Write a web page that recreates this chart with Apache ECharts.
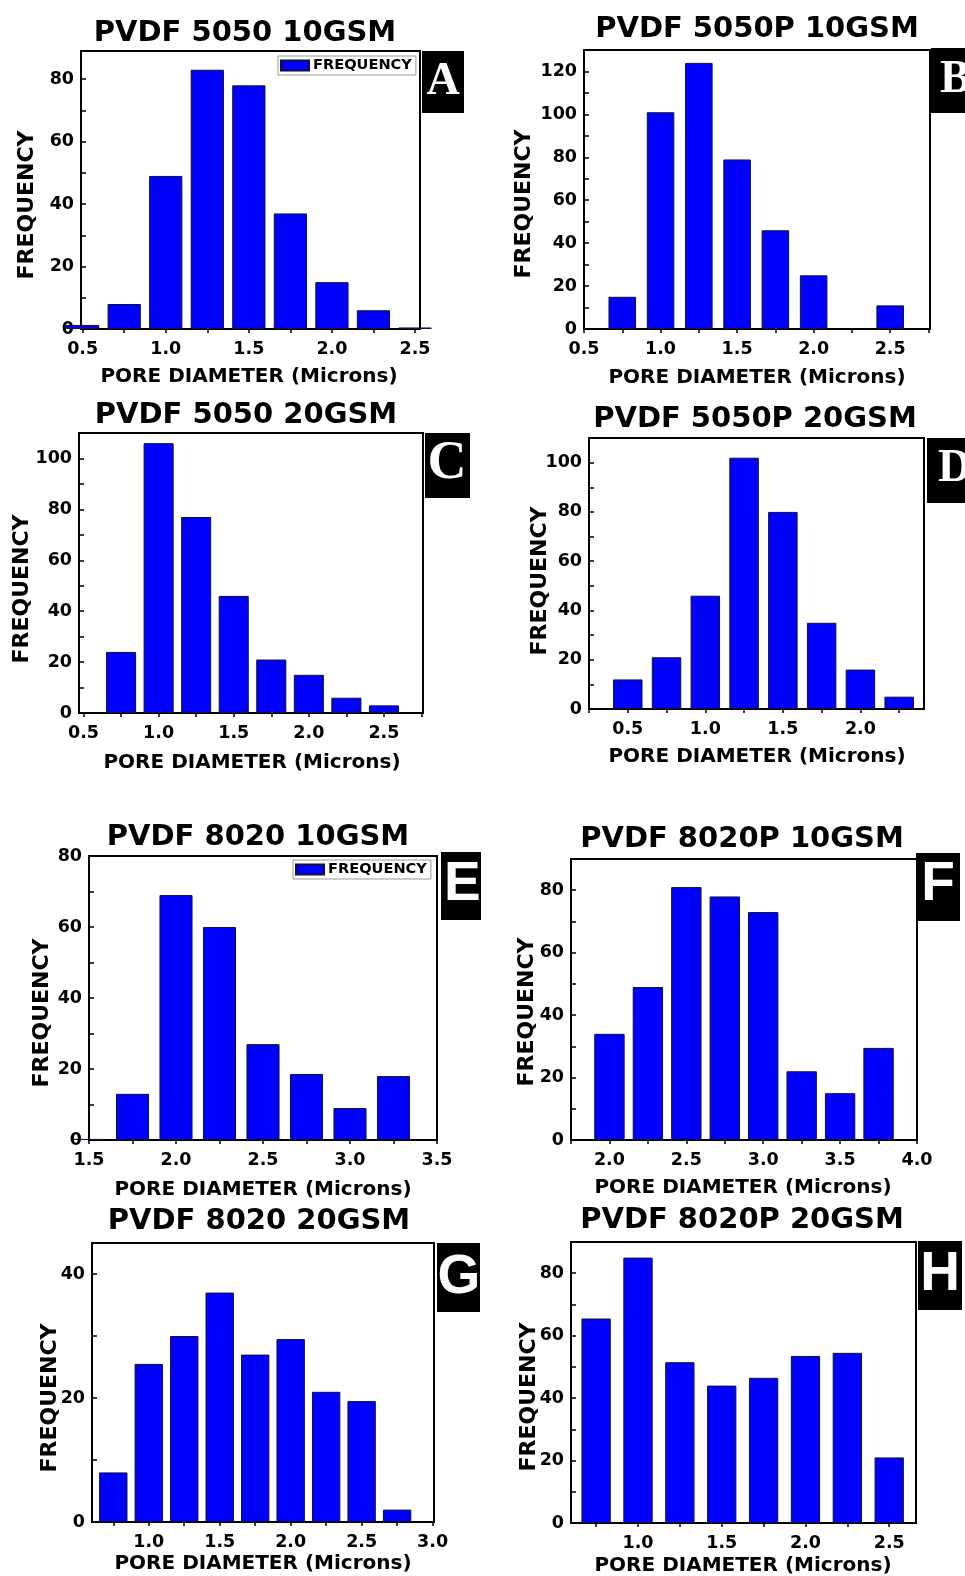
<!DOCTYPE html>
<html>
<head>
<meta charset="utf-8">
<title>Pore diameter histograms</title>
<script src="https://cdn.jsdelivr.net/npm/echarts@6/dist/echarts.min.js"></script>
<style>
  html, body { margin: 0; padding: 0; background: #fff; }
  #chart { width: 965px; height: 1576px; }
</style>
</head>
<body>
<div id="chart"></div>
<script>
// bin centres (microns) and counts for each panel
const diamA = [0.5, 0.75, 1.0, 1.25, 1.5, 1.75, 2.0, 2.25, 2.5]
const freqA = [1.3, 8, 49, 83, 78, 37, 15, 6, 0.5]
const diamB = [0.75, 1.0, 1.25, 1.5, 1.75, 2.0, 2.5]
const freqB = [15, 101, 124, 79, 46, 25, 11]
const diamC = [0.75, 1.0, 1.25, 1.5, 1.75, 2.0, 2.25, 2.5]
const freqC = [24, 106, 77, 46, 21, 15, 6, 3]
const diamD = [0.5, 0.75, 1.0, 1.25, 1.5, 1.75, 2.0, 2.25]
const freqD = [12, 21, 46, 102, 80, 35, 16, 5]
const diamE = [1.5, 1.75, 2.0, 2.25, 2.5, 2.75, 3.0, 3.25]
const freqE = [0.3, 13, 69, 60, 27, 18.6, 9, 18]
const diamF = [2.0, 2.25, 2.5, 2.75, 3.0, 3.25, 3.5, 3.75]
const freqF = [34, 49, 81, 78, 73, 22, 15, 29.5]
const diamG = [0.75, 1.0, 1.25, 1.5, 1.75, 2.0, 2.25, 2.5, 2.75]
const freqG = [8, 25.5, 30, 37, 27, 29.5, 21, 19.5, 2]
const diamH = [0.75, 1.0, 1.25, 1.5, 1.75, 2.0, 2.25, 2.5]
const freqH = [65.5, 85, 51.5, 44, 46.5, 53.5, 54.5, 21]

// tick labels
const xTicksA = [0.5, 1.0, 1.5, 2.0, 2.5]
const xTicksB = [0.5, 1.0, 1.5, 2.0, 2.5]
const xTicksC = [0.5, 1.0, 1.5, 2.0, 2.5]
const xTicksD = [0.5, 1.0, 1.5, 2.0]
const xTicksE = [1.5, 2.0, 2.5, 3.0, 3.5]
const xTicksF = [2.0, 2.5, 3.0, 3.5, 4.0]
const xTicksG = [1.0, 1.5, 2.0, 2.5, 3.0]
const xTicksH = [1.0, 1.5, 2.0, 2.5]
const yTicksA = [0, 20, 40, 60, 80]
const yTicksB = [0, 20, 40, 60, 80, 100, 120]
const yTicksC = [0, 20, 40, 60, 80, 100]
const yTicksD = [0, 20, 40, 60, 80, 100]
const yTicksE = [0, 20, 40, 60, 80]
const yTicksF = [0, 20, 40, 60, 80]
const yTicksG = [0, 20, 40]
const yTicksH = [0, 20, 40, 60, 80]

const titles = ['PVDF 5050 10GSM', 'PVDF 5050P 10GSM', 'PVDF 5050 20GSM', 'PVDF 5050P 20GSM',
  'PVDF 8020 10GSM', 'PVDF 8020P 10GSM', 'PVDF 8020 20GSM', 'PVDF 8020P 20GSM']
const letters = ['A', 'B', 'C', 'D', 'E', 'F', 'G', 'H']
const xName = 'PORE DIAMETER (Microns)'
const yName = 'FREQUENCY'

// layout of each panel (pixels)
const panels = [
  {diam: diamA, freq: freqA, xt: xTicksA, yt: yTicksA, grid: [81, 51, 339, 278], xr: [0.49, 2.53], yMax: 89, bw: '80%',
    title: [245, 33], xn: [249, 377], yn: [27, 205], box: [422, 51, 42, 62], let: [443, 82, 'center', 46, 'serif'], legend: [278, 56]},
  {diam: diamB, freq: freqB, xt: xTicksB, yt: yTicksB, grid: [584, 50, 346, 279], xr: [0.5, 2.76], yMax: 130, bw: '72%',
    title: [757, 29], xn: [757, 378], yn: [524, 204], box: [931, 48, 50, 65], let: [940, 80, 'left', 46, 'serif']},
  {diam: diamC, freq: freqC, xt: xTicksC, yt: yTicksC, grid: [79, 433, 344, 280], xr: [0.47, 2.76], yMax: 110, bw: '80%',
    title: [246, 415], xn: [252, 763], yn: [22, 589], box: [425, 433, 45, 65], let: [447, 464, 'center', 54, 'serif']},
  {diam: diamD, freq: freqD, xt: xTicksD, yt: yTicksD, grid: [589, 438, 335, 271], xr: [0.25, 2.41], yMax: 110, bw: '76%',
    title: [755, 419], xn: [757, 757], yn: [540, 581], box: [927, 438, 50, 65], let: [938, 469, 'left', 46, 'serif']},
  {diam: diamE, freq: freqE, xt: xTicksE, yt: yTicksE, grid: [89, 856, 348, 284], xr: [1.5, 3.5], yMax: 80, bw: '76%',
    title: [258, 837], xn: [263, 1190], yn: [42, 1013], box: [441, 852, 40, 68], let: [444, 885, 'left', 55, 'sans'], legend: [293, 860]},
  {diam: diamF, freq: freqF, xt: xTicksF, yt: yTicksF, grid: [571, 859, 346, 281], xr: [1.75, 4.0], yMax: 90, bw: '79%',
    title: [742, 839], xn: [743, 1188], yn: [527, 1012], box: [916, 853, 44, 68], let: [938, 885, 'center', 55, 'sans']},
  {diam: diamG, freq: freqG, xt: xTicksG, yt: yTicksG, grid: [92, 1243, 342, 279], xr: [0.6, 3.01], yMax: 45, bw: '80%',
    title: [259, 1221], xn: [263, 1564], yn: [50, 1398], box: [437, 1243, 43, 69], let: [459, 1278, 'center', 55, 'sans']},
  {diam: diamH, freq: freqH, xt: xTicksH, yt: yTicksH, grid: [571, 1242, 345, 281], xr: [0.6, 2.66], yMax: 90, bw: '70%',
    title: [742, 1220], xn: [743, 1566], yn: [529, 1397], box: [918, 1241, 44, 69], let: [940, 1275, 'center', 55, 'sans']}
]

const FONT = '"DejaVu Sans", "Liberation Sans", sans-serif'

// major ticks plus the midpoints between them
function withMinor(ticks, lo, hi) {
  let out = ticks.slice()
  let step = ticks[1] - ticks[0]
  let cand = [ticks[0] - step / 2]
  for (let i = 0; i < ticks.length; i++) cand.push(ticks[i] + step / 2)
  cand.forEach(v => { if (v >= lo && v <= hi) out.push(v) })
  return out
}

let chart = echarts.init(document.getElementById('chart'))

let grids = [], xAxes = [], yAxes = [], series = [], graphics = [], legends = []

panels.forEach((p, i) => {
  grids.push({
    left: p.grid[0], top: p.grid[1], width: p.grid[2], height: p.grid[3],
    show: true, borderColor: '#000', borderWidth: 2, backgroundColor: 'transparent'
  })
  xAxes.push({
    type: 'value', gridIndex: i, min: p.xr[0], max: p.xr[1],
    axisLine: {show: true, onZero: false, lineStyle: {color: '#000', width: 2}},
    axisTick: {show: true, inside: false, length: 4, lineStyle: {color: '#000', width: 1.5},
      customValues: withMinor(p.xt, p.xr[0], p.xr[1])},
    axisLabel: {customValues: p.xt, formatter: v => v.toFixed(1), margin: 11, color: '#000',
      fontFamily: FONT, fontWeight: 'bold', fontSize: 17.5},
    splitLine: {show: false}
  })
  yAxes.push({
    type: 'value', gridIndex: i, min: 0, max: p.yMax,
    axisLine: {show: true, onZero: false, lineStyle: {color: '#000', width: 2}},
    axisTick: {show: true, inside: true, length: 5, lineStyle: {color: '#000', width: 1.5},
      customValues: withMinor(p.yt, 0, p.yMax)},
    axisLabel: {customValues: p.yt, margin: 7, color: '#000',
      fontFamily: FONT, fontWeight: 'bold', fontSize: 17.5},
    splitLine: {show: false}
  })
  series.push({
    type: 'bar', name: 'FREQUENCY', xAxisIndex: i, yAxisIndex: i,
    data: p.diam.map((d, k) => [d, p.freq[k]]),
    barWidth: p.bw, clip: true, silent: true,
    itemStyle: {color: '#0000ff', borderColor: '#10103a', borderWidth: 1}
  })
  if (p.legend) {
    legends.push({
      left: p.legend[0], top: p.legend[1], data: ['FREQUENCY'], selectedMode: false,
      orient: 'horizontal', padding: [2, 4, 2, 2], itemWidth: 28, itemHeight: 10, itemGap: 4,
      borderColor: '#999', borderWidth: 1, icon: 'rect',
      textStyle: {color: '#000', fontFamily: FONT, fontWeight: 'bold', fontSize: 14.6, lineHeight: 15, padding: [0, 0, 0, -1]}
    })
  }

  graphics.push({
    type: 'text', x: p.title[0], y: p.title[1],
    style: {text: titles[i], font: 'bold 29px ' + FONT, fill: '#000', textAlign: 'center', textVerticalAlign: 'middle'}
  })
  graphics.push({
    type: 'text', x: p.xn[0], y: p.xn[1],
    style: {text: xName, font: 'bold 20px ' + FONT, fill: '#000', textAlign: 'center', textVerticalAlign: 'middle'}
  })
  graphics.push({
    type: 'text', x: p.yn[0], y: p.yn[1], rotation: Math.PI / 2,
    style: {text: yName, font: 'bold 22px ' + FONT, fill: '#000', textAlign: 'center', textVerticalAlign: 'middle'}
  })
  graphics.push({
    type: 'rect', shape: {x: p.box[0], y: p.box[1], width: p.box[2], height: p.box[3]},
    style: {fill: '#000'}
  })
  let letFont = p.let[4] === 'serif' ? '"Liberation Serif", "DejaVu Serif", serif' : '"Liberation Sans", Arial, sans-serif'
  graphics.push({
    type: 'text', x: p.let[0], y: p.let[1],
    style: {text: letters[i], font: 'bold ' + p.let[3] + 'px ' + letFont, fill: '#fff',
      textAlign: p.let[2], textVerticalAlign: 'middle'}
  })
})

chart.setOption({
  animation: false,
  backgroundColor: '#fff',
  grid: grids,
  xAxis: xAxes,
  yAxis: yAxes,
  legend: legends,
  series: series,
  graphic: graphics
})
</script>
</body>
</html>
